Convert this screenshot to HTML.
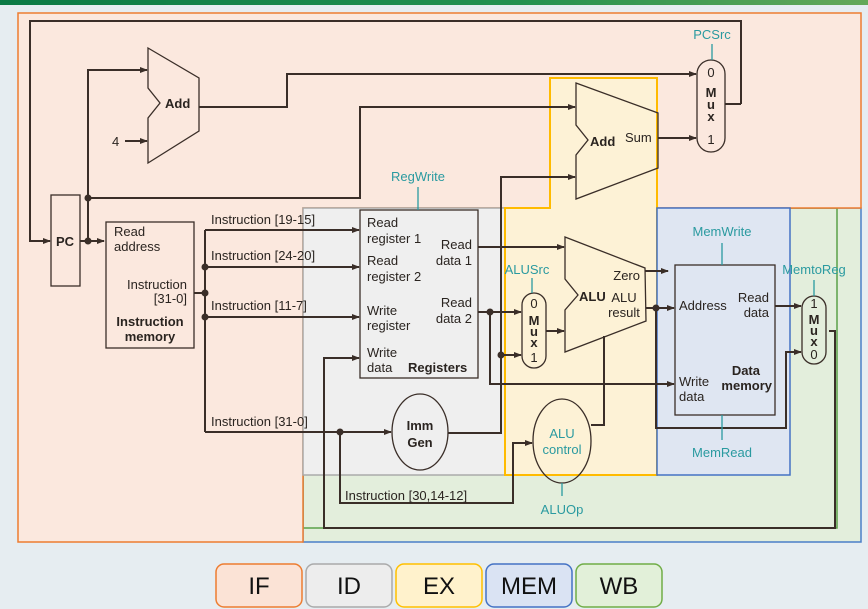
<!DOCTYPE html>
<html><head><meta charset="utf-8"><style>
html,body{margin:0;padding:0;width:868px;height:609px;overflow:hidden;background:#e4ebef}
svg{display:block}
text{font-family:"Liberation Sans",sans-serif;font-size:13px;fill:#2a2420}
.b{font-weight:bold}
.t{fill:#2a9aa0}
.ln{stroke:#3a2e28;stroke-width:2;fill:none}
.sh{stroke:#3a2e28;stroke-width:1.3;fill:none}
.c{stroke:#2a9aa0;stroke-width:1.3}
.lg{font-size:24px;fill:#111}
</style></head><body>
<svg width="868" height="609" viewBox="0 0 868 609">
<defs>
<linearGradient id="g" x1="0" x2="1"><stop offset="0" stop-color="#0b7a45"/><stop offset="0.6" stop-color="#239150"/><stop offset="1" stop-color="#65a858"/></linearGradient>
<marker id="a" markerWidth="8" markerHeight="8" refX="7" refY="4" orient="auto" markerUnits="userSpaceOnUse"><path d="M0,1 L8,4 L0,7z" fill="#3a2e28"/></marker>
</defs>
<rect x="0" y="0" width="868" height="609" fill="#e6edf1"/>
<rect x="0" y="0" width="868" height="5" fill="url(#g)"/>
<!-- stage regions -->
<rect x="303" y="208" width="558" height="334" fill="#e3eedc" stroke="#4a7fc8" stroke-width="1.5"/>
<rect x="303" y="208" width="534" height="320" fill="none" stroke="#5aa048" stroke-width="1.5"/>
<path d="M18,13 H861 V208 H303 V542 H18Z" fill="#fbe8de" stroke="#ed7d31" stroke-width="1.5"/>
<rect x="303" y="208" width="202" height="267" fill="#efefef" stroke="#aaa" stroke-width="1.5"/>
<path d="M550,78 H657 V475 H505 V208 H550Z" fill="#fdf2d6" stroke="#ffbb00" stroke-width="2"/>
<rect x="657" y="208" width="133" height="267" fill="#dfe6f2" stroke="#4472c4" stroke-width="1.5"/>
<!-- wires -->
<path class="ln" d="M741,104 V21 H30 V241 H50" marker-end="url(#a)"/>
<path class="ln" d="M725,104 H741"/>
<path class="ln" d="M80,241 H104" marker-end="url(#a)"/>
<path class="ln" d="M88,241 V70 H147" marker-end="url(#a)"/>
<path class="ln" d="M88,198 H360 V107 H575" marker-end="url(#a)"/>
<circle cx="88" cy="241" r="3.5" fill="#3a2e28"/><circle cx="88" cy="198" r="3.5" fill="#3a2e28"/>
<path class="ln" d="M125,141 H147" marker-end="url(#a)"/>
<path class="ln" d="M199,107 H287 V74 H696" marker-end="url(#a)"/>
<path class="ln" d="M658,138 H696" marker-end="url(#a)"/>
<path class="ln" d="M194,293 H205 M205,230 V432"/>
<path class="ln" d="M205,230 H359" marker-end="url(#a)"/>
<path class="ln" d="M205,267 H359" marker-end="url(#a)"/>
<path class="ln" d="M205,317 H359" marker-end="url(#a)"/>
<path class="ln" d="M205,432 H391" marker-end="url(#a)"/>
<circle cx="205" cy="267" r="3.5" fill="#3a2e28"/><circle cx="205" cy="293" r="3.5" fill="#3a2e28"/><circle cx="205" cy="317" r="3.5" fill="#3a2e28"/><circle cx="340" cy="432" r="3.5" fill="#3a2e28"/>
<path class="ln" d="M340,432 V503 H513 V443 H532" marker-end="url(#a)"/>
<path class="ln" d="M829,331 H835 V528 H324 V358 H359" marker-end="url(#a)"/>
<path class="ln" d="M478,247 H564" marker-end="url(#a)"/>
<path class="ln" d="M478,312 H521" marker-end="url(#a)"/>
<circle cx="490" cy="312" r="3.5" fill="#3a2e28"/>
<path class="ln" d="M490,312 V384 H674" marker-end="url(#a)"/>
<path class="ln" d="M448,433 H501 V177 H575" marker-end="url(#a)"/>
<path class="ln" d="M501,355 H521" marker-end="url(#a)"/>
<circle cx="501" cy="355" r="3.5" fill="#3a2e28"/>
<path class="ln" d="M546,331 H564" marker-end="url(#a)"/>
<path class="ln" d="M645,271 H668" marker-end="url(#a)"/>
<path class="ln" d="M646,308 H674" marker-end="url(#a)"/>
<circle cx="656" cy="308" r="3.5" fill="#3a2e28"/>
<path class="ln" d="M656,308 V428 H786 V352 H801" marker-end="url(#a)"/>
<path class="ln" d="M775,306 H801" marker-end="url(#a)"/>
<path class="ln" d="M591,425 H604 V336"/>
<!-- components -->
<rect x="51" y="195" width="29" height="91" fill="#fbe8de" class="sh"/>
<text x="65" y="246" text-anchor="middle" class="b">PC</text>
<path d="M148,48 L199,78 L199,131 L148,163 L148,118 L160,103 L148,88Z" fill="#fbe8de" class="sh"/>
<text x="165" y="108" class="b">Add</text>
<text x="112" y="146">4</text>
<rect x="697" y="60" width="28" height="92" rx="14" fill="#fbe8de" class="sh"/>
<text x="711" y="77" text-anchor="middle">0</text>
<text x="711" y="97" text-anchor="middle" class="b">M</text><text x="711" y="109" text-anchor="middle" class="b">u</text><text x="711" y="121" text-anchor="middle" class="b">x</text>
<text x="711" y="144" text-anchor="middle">1</text>
<line x1="712" y1="44" x2="712" y2="60" class="c"/><text x="712" y="39" text-anchor="middle" class="t">PCSrc</text>
<path d="M576,83 L658,113 L658,168 L576,199 L576,155 L588,140 L576,125Z" fill="#fdf2d6" class="sh"/>
<text x="590" y="146" class="b">Add</text><text x="625" y="142">Sum</text>
<rect x="106" y="222" width="88" height="126" fill="#fbe8de" class="sh"/>
<text x="114" y="236">Read</text><text x="114" y="251">address</text>
<text x="187" y="289" text-anchor="end">Instruction</text><text x="187" y="303" text-anchor="end">[31-0]</text>
<text x="150" y="326" text-anchor="middle" class="b">Instruction</text><text x="150" y="341" text-anchor="middle" class="b">memory</text>
<text x="211" y="224">Instruction [19-15]</text>
<text x="211" y="260">Instruction [24-20]</text>
<text x="211" y="310">Instruction [11-7]</text>
<text x="211" y="426">Instruction [31-0]</text>
<text x="345" y="500">Instruction [30,14-12]</text>
<rect x="360" y="210" width="118" height="168" fill="#efefef" class="sh"/>
<text x="367" y="227">Read</text><text x="367" y="243">register 1</text>
<text x="367" y="265">Read</text><text x="367" y="281">register 2</text>
<text x="367" y="315">Write</text><text x="367" y="330">register</text>
<text x="367" y="357">Write</text><text x="367" y="372">data</text>
<text x="408" y="372" class="b">Registers</text>
<text x="472" y="249" text-anchor="end">Read</text><text x="472" y="265" text-anchor="end">data 1</text>
<text x="472" y="307" text-anchor="end">Read</text><text x="472" y="323" text-anchor="end">data 2</text>
<line x1="418" y1="187" x2="418" y2="210" class="c"/><text x="418" y="181" text-anchor="middle" class="t">RegWrite</text>
<ellipse cx="420" cy="432" rx="28" ry="38" fill="#efefef" class="sh"/>
<text x="420" y="430" text-anchor="middle" class="b">Imm</text><text x="420" y="447" text-anchor="middle" class="b">Gen</text>
<rect x="522" y="293" width="24" height="75" rx="12" fill="#fdf2d6" class="sh"/>
<text x="534" y="308" text-anchor="middle">0</text>
<text x="534" y="325" text-anchor="middle" class="b">M</text><text x="534" y="336" text-anchor="middle" class="b">u</text><text x="534" y="347" text-anchor="middle" class="b">x</text>
<text x="534" y="362" text-anchor="middle">1</text>
<line x1="532" y1="278" x2="532" y2="293" class="c"/><text x="527" y="274" text-anchor="middle" class="t">ALUSrc</text>
<path d="M565,237 L645,268 L646,321 L565,352 L565,310 L578,295 L565,279Z" fill="#fdf2d6" class="sh"/>
<text x="579" y="301" class="b">ALU</text>
<text x="640" y="280" text-anchor="end">Zero</text>
<text x="624" y="302" text-anchor="middle">ALU</text><text x="624" y="317" text-anchor="middle">result</text>
<ellipse cx="562" cy="441" rx="29" ry="42" fill="#fdf2d6" class="sh"/>
<text x="562" y="438" text-anchor="middle" class="t">ALU</text><text x="562" y="454" text-anchor="middle" class="t">control</text>
<line x1="562" y1="483" x2="562" y2="496" class="c"/><text x="562" y="514" text-anchor="middle" class="t">ALUOp</text>
<rect x="675" y="265" width="100" height="150" fill="#dfe6f2" class="sh"/>
<text x="679" y="310">Address</text>
<text x="769" y="302" text-anchor="end">Read</text><text x="769" y="317" text-anchor="end">data</text>
<text x="760" y="375" text-anchor="end" class="b">Data</text><text x="772" y="390" text-anchor="end" class="b">memory</text>
<text x="679" y="386">Write</text><text x="679" y="401">data</text>
<line x1="722" y1="243" x2="722" y2="265" class="c"/><text x="722" y="236" text-anchor="middle" class="t">MemWrite</text>
<line x1="722" y1="415" x2="722" y2="440" class="c"/><text x="722" y="457" text-anchor="middle" class="t">MemRead</text>
<rect x="802" y="296" width="24" height="68" rx="12" fill="#e3eedc" class="sh"/>
<text x="814" y="308" text-anchor="middle">1</text>
<text x="814" y="324" text-anchor="middle" class="b">M</text><text x="814" y="335" text-anchor="middle" class="b">u</text><text x="814" y="346" text-anchor="middle" class="b">x</text>
<text x="814" y="359" text-anchor="middle">0</text>
<line x1="814" y1="280" x2="814" y2="296" class="c"/><text x="814" y="274" text-anchor="middle" class="t">MemtoReg</text>
<!-- legend -->
<rect x="216" y="564" width="86" height="43" rx="8" fill="#fbe3d6" stroke="#ed7d31" stroke-width="1.5"/>
<rect x="306" y="564" width="86" height="43" rx="8" fill="#ededed" stroke="#aaa" stroke-width="1.5"/>
<rect x="396" y="564" width="86" height="43" rx="8" fill="#fff2cc" stroke="#ffc000" stroke-width="1.5"/>
<rect x="486" y="564" width="86" height="43" rx="8" fill="#dae3f3" stroke="#4472c4" stroke-width="1.5"/>
<rect x="576" y="564" width="86" height="43" rx="8" fill="#e2f0d9" stroke="#70ad47" stroke-width="1.5"/>
<text x="259" y="594" text-anchor="middle" class="lg">IF</text>
<text x="349" y="594" text-anchor="middle" class="lg">ID</text>
<text x="439" y="594" text-anchor="middle" class="lg">EX</text>
<text x="529" y="594" text-anchor="middle" class="lg">MEM</text>
<text x="619" y="594" text-anchor="middle" class="lg">WB</text>
</svg>
</body></html>
